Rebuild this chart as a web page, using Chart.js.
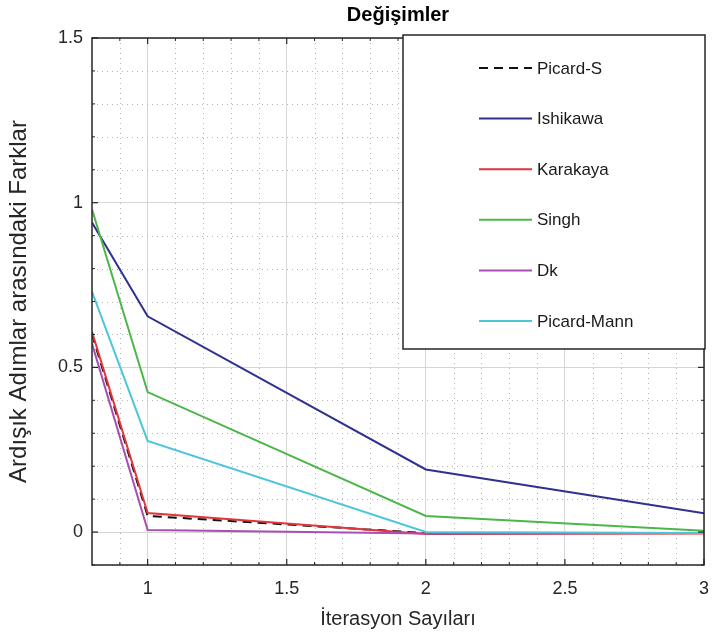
<!DOCTYPE html>
<html>
<head>
<meta charset="utf-8">
<script src="https://cdn.jsdelivr.net/npm/chart.js@4.4.1/dist/chart.umd.min.js"></script>
<style>
  html, body { margin: 0; padding: 0; background: #fff; }
  #wrap { width: 712px; height: 641px; }
</style>
</head>
<body>
<div id="wrap"><canvas id="degisim" width="712" height="641"></canvas></div>
<script>
// iteration numbers (first point sits on the left edge of the axis)
const iterations = [0.8, 1, 2, 3];

// differences between successive steps, per method
const picardS    = [0.600, 0.049, -0.003, -0.003];
const ishikawa   = [0.940, 0.655, 0.190, 0.057];
const karakaya   = [0.608, 0.058, -0.006, -0.004];
const singh      = [0.980, 0.425, 0.049, 0.004];
const dk         = [0.572, 0.006, -0.004, -0.003];
const picardMann = [0.730, 0.277, 0.000, -0.003];

const methodNames = ['Picard-S', 'Ishikawa', 'Karakaya', 'Singh', 'Dk', 'Picard-Mann'];

// tick labels
const xTicks = [1, 1.5, 2, 2.5, 3];
const yTicks = [0, 0.5, 1, 1.5];
const xMinor = [0.9, 1.1, 1.2, 1.3, 1.4, 1.6, 1.7, 1.8, 1.9, 2.1, 2.2, 2.3, 2.4, 2.6, 2.7, 2.8, 2.9];
const yMinor = [-0.1, 0.1, 0.2, 0.3, 0.4, 0.6, 0.7, 0.8, 0.9, 1.1, 1.2, 1.3, 1.4];

const seriesValues = [picardS, ishikawa, karakaya, singh, dk, picardMann];
const colors = ['#111111', '#2f3190', '#e2353a', '#4cb748', '#a84fb2', '#4dc6da'];

const SANS = "'Liberation Sans', Arial, sans-serif";

const datasets = seriesValues.map((vals, i) => ({
    label: methodNames[i],
    data: vals.map((v, j) => ({ x: iterations[j], y: v })),
    borderColor: colors[i],
    backgroundColor: colors[i],
    borderWidth: 2,
    borderDash: i === 0 ? [9, 6] : [],
    pointRadius: 0,
    tension: 0,
    order: seriesValues.length - i   // later methods drawn on top
}));

// MATLAB-like axes: dotted minor grid, boxed frame with inward ticks, framed legend
const matlabAxes = {
    id: 'matlabAxes',
    beforeDatasetsDraw(chart) {
        const { ctx, chartArea: a, scales: { x, y } } = chart;
        ctx.save();
        ctx.strokeStyle = '#b5b5b5';
        ctx.lineWidth = 1;
        ctx.setLineDash([1, 4]);
        xMinor.forEach(v => {
            const px = Math.round(x.getPixelForValue(v)) + 0.5;
            ctx.beginPath(); ctx.moveTo(px, a.top); ctx.lineTo(px, a.bottom); ctx.stroke();
        });
        yMinor.forEach(v => {
            const py = Math.round(y.getPixelForValue(v)) + 0.5;
            ctx.beginPath(); ctx.moveTo(a.left, py); ctx.lineTo(a.right, py); ctx.stroke();
        });
        ctx.restore();
    },
    afterDatasetsDraw(chart) {
        const { ctx, chartArea: a, scales: { x, y } } = chart;
        ctx.save();
        ctx.strokeStyle = '#262626';
        ctx.lineWidth = 1.5;
        ctx.setLineDash([]);
        ctx.strokeRect(a.left, a.top, a.right - a.left, a.bottom - a.top);
        ctx.lineWidth = 1.2;
        const tick = (x1, y1, x2, y2) => { ctx.beginPath(); ctx.moveTo(x1, y1); ctx.lineTo(x2, y2); ctx.stroke(); };
        xTicks.forEach(v => {
            const px = x.getPixelForValue(v);
            tick(px, a.bottom, px, a.bottom - 6);
            tick(px, a.top, px, a.top + 6);
        });
        yTicks.forEach(v => {
            const py = y.getPixelForValue(v);
            tick(a.left, py, a.left + 6, py);
            tick(a.right, py, a.right - 6, py);
        });
        ctx.lineWidth = 1;
        xMinor.forEach(v => {
            const px = x.getPixelForValue(v);
            tick(px, a.bottom, px, a.bottom - 3);
            tick(px, a.top, px, a.top + 3);
        });
        yMinor.forEach(v => {
            const py = y.getPixelForValue(v);
            tick(a.left, py, a.left + 3, py);
            tick(a.right, py, a.right - 3, py);
        });

        // legend box in the upper right corner
        const bw = 302, bh = 314;
        const bx = a.right + 1 - bw, by = a.top - 3;
        ctx.fillStyle = '#ffffff';
        ctx.fillRect(bx, by, bw, bh);
        ctx.strokeStyle = '#262626';
        ctx.lineWidth = 1.5;
        ctx.strokeRect(bx, by, bw, bh);
        ctx.font = '17px ' + SANS;
        ctx.textBaseline = 'middle';
        ctx.textAlign = 'left';
        chart.data.datasets.forEach((ds, i) => {
            const ry = by + 33 + i * 50.6;
            ctx.strokeStyle = ds.borderColor;
            ctx.lineWidth = 2;
            ctx.setLineDash(ds.borderDash);
            ctx.beginPath(); ctx.moveTo(bx + 76, ry); ctx.lineTo(bx + 129, ry); ctx.stroke();
            ctx.setLineDash([]);
            ctx.fillStyle = '#1a1a1a';
            ctx.fillText(ds.label, bx + 134, ry + 1);
        });
        ctx.restore();
    }
};

new Chart(document.getElementById('degisim'), {
    type: 'line',
    data: { datasets: datasets },
    options: {
        responsive: false,
        animation: false,
        layout: { padding: { left: 0, right: 0, top: 0, bottom: 0 } },
        plugins: {
            legend: { display: false },
            tooltip: { enabled: false },
            title: {
                display: true,
                text: 'Değişimler',
                fullSize: false,
                color: '#000',
                font: { family: SANS, size: 20, weight: 'bold' },
                padding: { top: 3, bottom: 11 }
            }
        },
        scales: {
            x: {
                type: 'linear',
                min: 0.8,
                max: 3,
                afterBuildTicks: s => { s.ticks = xTicks.map(v => ({ value: v })); },
                afterFit: s => { s.height = 76; s.paddingRight = 8; },
                border: { display: false },
                grid: { color: '#d6d6d6', lineWidth: 1, drawTicks: false },
                ticks: {
                    autoSkip: false,
                    maxRotation: 0,
                    padding: 13,
                    color: '#262626',
                    font: { family: SANS, size: 18 },
                    callback: v => String(v)
                },
                title: {
                    display: true,
                    text: 'İterasyon Sayıları',
                    color: '#262626',
                    font: { family: SANS, size: 20 },
                    padding: { top: 0, bottom: 10 }
                }
            },
            y: {
                type: 'linear',
                min: -0.1,
                max: 1.5,
                afterBuildTicks: s => { s.ticks = yTicks.map(v => ({ value: v })); },
                afterFit: s => { s.width = 92; },
                border: { display: false },
                grid: { color: '#d6d6d6', lineWidth: 1, drawTicks: false },
                ticks: {
                    autoSkip: false,
                    padding: 9,
                    color: '#262626',
                    font: { family: SANS, size: 18 },
                    callback: v => String(v)
                },
                title: {
                    display: true,
                    text: 'Ardışık Adımlar arasındaki Farklar',
                    color: '#262626',
                    font: { family: SANS, size: 24 },
                    padding: { top: 5, bottom: 0 }
                }
            }
        }
    },
    plugins: [matlabAxes]
});
</script>
</body>
</html>
